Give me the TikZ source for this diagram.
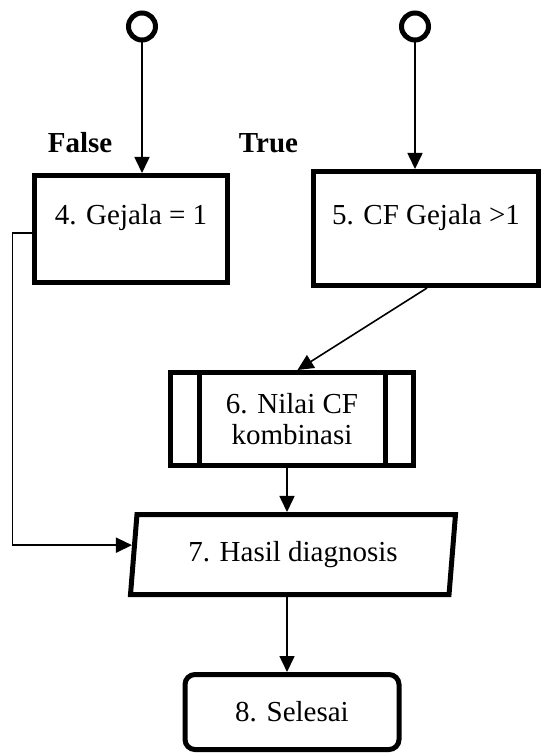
\documentclass[tikz,border=0pt]{standalone}
\usepackage{fontspec}
\setmainfont{Liberation Serif}
\usetikzlibrary{arrows.meta,shapes.geometric,calc}

\begin{document}
\begin{tikzpicture}[x=1pt,y=-1pt,
  font=\fontsize{29}{31}\selectfont,
  thickbox/.style={draw, line width=5pt, inner sep=0pt},
  conn/.style={line width=1.6pt, -{Triangle[length=16pt,width=15pt]}},
  startpt/.style={circle, draw, line width=5pt, minimum size=27pt, inner sep=0pt},
  branchlbl/.style={font=\fontsize{29}{31}\selectfont\bfseries}]
\useasboundingbox (0,0) rectangle (543,754);

% connector heads
\node[startpt] (c1) at (142,26.5) {};
\node[startpt] (c2) at (415,26.5) {};

% branch labels
\node[branchlbl] (lf) at (80,143) {False};
\node[branchlbl] (lt) at (268.5,143) {True};

% process boxes
\node[thickbox, minimum width=193.5pt, text height=48.5pt, text depth=58.5pt] (b4) at (131,229) {4. Gejala = 1};
\node[thickbox, minimum width=225pt, text height=52.5pt, text depth=61.5pt] (b5) at (426,228.5) {5. CF Gejala >1};

% predefined process
\node[thickbox, minimum width=243pt, minimum height=93pt, align=center] (b6) at (292,419) {6. Nilai CF\\kombinasi};
\draw[line width=5pt] ([xshift=31pt]b6.north west) -- ([xshift=31pt]b6.south west);
\draw[line width=5pt] ([xshift=-31pt]b6.north east) -- ([xshift=-31pt]b6.south east);

% output (parallelogram)
\node[thickbox, trapezium, trapezium left angle=76.2, trapezium right angle=103.8,
      trapezium stretches body, minimum width=325pt, minimum height=80pt] (b7) at (293,554.5) {7. Hasil diagnosis};

% terminator
\node[thickbox, rounded corners=10pt, minimum width=214pt, minimum height=75pt] (b8) at (292,712) {8. Selesai};

% flow
\draw[conn] (c1.south) -- (c1.south |- b4.north);
\draw[conn] (c2.south) -- (c2.south |- b5.north);
\draw[conn] ([xshift=1pt]b5.south) -- ([xshift=5.5pt]b6.north);
\draw[conn] ([xshift=-5pt]b6.south) -- ([xshift=-5pt]b6.south |- b7.north);
\draw[conn] ([xshift=-6pt]b7.south) -- ([xshift=-6pt]b7.south |- b8.north);

% false branch around the left side
\coordinate (b7in) at ($(b7.bottom left corner)!0.61!(b7.top left corner)$);
\coordinate (elbow) at (12.4,233);
\draw[conn] (b4.west |- elbow) -- (elbow) |- (b7in);
\end{tikzpicture}
\end{document}
